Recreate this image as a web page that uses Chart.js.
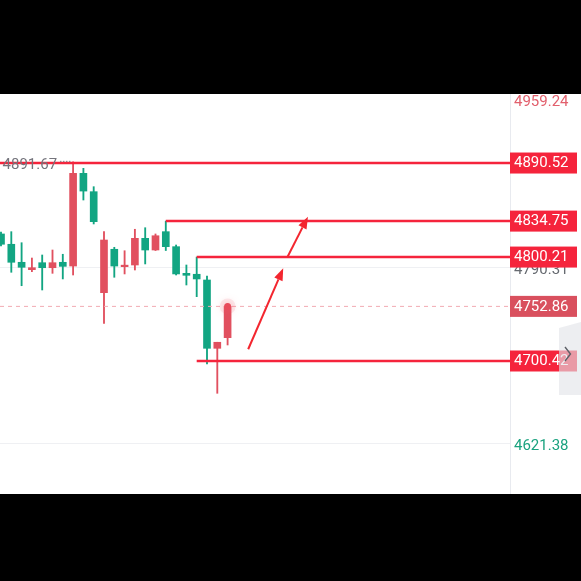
<!DOCTYPE html>
<html>
<head>
<meta charset="utf-8">
<script src="https://cdn.jsdelivr.net/npm/chart.js@4/dist/chart.umd.min.js"></script>
<style>
  html, body { margin: 0; padding: 0; background: #000; }
  #wrap { position: absolute; left: 0; top: 94px; width: 581px; height: 400px; background: #fff; }
</style>
</head>
<body>
<div id="wrap"><canvas id="kline" width="581" height="400"></canvas></div>
<script>
'use strict';

// ── Candles (index = bar number, oldest first) ───────────────────────────────
const OPEN  = [4822.4, 4812.5, 4795.2, 4788.1, 4794.8, 4790.0, 4795.2, 4791.6, 4880.6, 4863.0, 4766.0, 4807.7,
               4791.0, 4792.6, 4818.2, 4807.0, 4824.6, 4810.2, 4784.6, 4783.7, 4778.2, 4712.6, 4722.8];
const HIGH  = [4824.3, 4824.6, 4814.0, 4799.3, 4802.2, 4807.0, 4802.9, 4891.67, 4885.4, 4867.8, 4824.6, 4809.6,
               4806.3, 4826.9, 4828.4, 4822.4, 4834.75, 4811.8, 4792.6, 4800.21, 4782.0, 4718.4, 4752.86];
const LOW   = [4810.8, 4785.6, 4772.7, 4786.2, 4768.6, 4784.6, 4779.2, 4783.0, 4855.0, 4832.0, 4736.6, 4780.8,
               4784.0, 4787.8, 4793.6, 4806.5, 4806.5, 4783.0, 4773.4, 4762.2, 4697.6, 4669.4, 4715.8];
const CLOSE = [4812.5, 4795.2, 4790.4, 4790.0, 4790.0, 4794.8, 4791.3, 4880.6, 4863.6, 4834.2, 4816.6, 4791.6,
               4792.3, 4818.2, 4807.0, 4820.7, 4810.2, 4784.0, 4782.7, 4779.2, 4712.6, 4718.4, 4752.86];

// price axis: visible max / mid / min
const AXIS_TICKS  = [4959.24, 4790.31, 4621.38];
const AXIS_COLORS = ['#e2606d', '#666a70', '#1aa27f'];

// user drawn price levels and the bar each one starts from
const LEVELS      = [4890.52, 4834.75, 4800.21, 4700.42];
const LEVEL_START = [-0.1, 16, 19, 19];

// arrows: [fromBar, fromPrice, toBar, toPrice]
const ARROWS = [
  [24.0, 4711.7, 27.4, 4789.4],
  [27.8, 4800.0, 29.8, 4839.0],
];

// visible window
const X_MIN = -0.097, X_MAX = 49.418;
const Y_MIN = 4572.7, Y_MAX = 4956.8;

const UP = '#e1505f', DOWN = '#12a582', LINE_RED = '#f5243c', LAST_RED = '#d9505e';
const FONT = '15px Roboto, "Noto Sans", sans-serif';

const idx = OPEN.map((_, i) => i);
const colors = idx.map(i => CLOSE[i] >= OPEN[i] ? UP : DOWN);
const last = CLOSE[CLOSE.length - 1];

function drawArrow(ctx, x1, y1, x2, y2) {
  const ang = Math.atan2(y2 - y1, x2 - x1);
  const len = 12, half = 4.5;
  const bx = x2 - len * Math.cos(ang), by = y2 - len * Math.sin(ang);
  ctx.strokeStyle = '#f3262f';
  ctx.fillStyle = '#f3262f';
  ctx.lineWidth = 2;
  ctx.beginPath();
  ctx.moveTo(x1, y1);
  ctx.lineTo(bx, by);
  ctx.stroke();
  ctx.beginPath();
  ctx.moveTo(x2, y2);
  ctx.lineTo(bx + half * Math.sin(ang), by - half * Math.cos(ang));
  ctx.lineTo(bx - half * Math.sin(ang), by + half * Math.cos(ang));
  ctx.closePath();
  ctx.fill();
}

const overlay = {
  id: 'overlay',
  afterDatasetsDraw(chart) {
    const { ctx, scales: { x, y } } = chart;
    ctx.save();

    ARROWS.forEach(a => drawArrow(ctx,
      x.getPixelForValue(a[0]), y.getPixelForValue(a[1]),
      x.getPixelForValue(a[2]), y.getPixelForValue(a[3])));

    // highest high marker with dotted leader
    const hiVal = Math.max(...HIGH);
    const hi = HIGH.indexOf(hiVal);
    const hx = x.getPixelForValue(hi), hy = y.getPixelForValue(hiVal);
    ctx.fillStyle = '#85858d';
    for (let d = hx - 13; d < hx - 1; d += 3) ctx.fillRect(d, hy - 1, 1.3, 1.3);
    ctx.font = FONT;
    ctx.textAlign = 'right';
    ctx.textBaseline = 'middle';
    ctx.fillStyle = '#74747c';
    ctx.fillText(hiVal.toFixed(2), hx - 16, hy + 3.5);

    // live price dot on the last bar
    const lx = x.getPixelForValue(CLOSE.length - 1), ly = y.getPixelForValue(last);
    ctx.fillStyle = 'rgba(240,90,105,0.12)';
    ctx.beginPath();
    ctx.arc(lx, ly, 8, 0, Math.PI * 2);
    ctx.fill();
    ctx.shadowColor = 'rgba(240,80,95,0.55)';
    ctx.shadowBlur = 9;
    ctx.fillStyle = '#e84a5a';
    ctx.beginPath();
    ctx.arc(lx, ly, 3.5, 0, Math.PI * 2);
    ctx.fill();
    ctx.restore();
  },
  afterDraw(chart) {
    const { ctx, scales: { y } } = chart;
    ctx.save();
    ctx.font = FONT;
    ctx.textAlign = 'left';
    ctx.textBaseline = 'middle';

    AXIS_TICKS.forEach((v, i) => {
      const ty = Math.min(Math.max(y.getPixelForValue(v) + 2.5, 8), chart.height - 8);
      ctx.fillStyle = AXIS_COLORS[i];
      ctx.fillText(v.toFixed(2), 514, ty);
    });

    const tag = (v, bg) => {
      const ty = y.getPixelForValue(v);
      ctx.fillStyle = bg;
      ctx.fillRect(510, ty - 10.5, 67, 21);
      ctx.fillStyle = '#fff';
      ctx.fillText(v.toFixed(2), 514, ty + 0.5);
    };
    LEVELS.forEach(v => tag(v, LINE_RED));
    tag(last, LAST_RED);

    // collapse tab on the right edge
    ctx.fillStyle = 'rgba(226,227,233,0.62)';
    ctx.beginPath();
    ctx.moveTo(559, 234);
    ctx.lineTo(581, 228);
    ctx.lineTo(581, 301);
    ctx.lineTo(559, 301);
    ctx.closePath();
    ctx.fill();
    ctx.strokeStyle = '#5c5f66';
    ctx.lineWidth = 1.4;
    ctx.beginPath();
    ctx.moveTo(565, 253);
    ctx.lineTo(570.5, 260);
    ctx.lineTo(565, 267);
    ctx.stroke();
    ctx.restore();
  }
};

const levelSets = LEVELS.map((v, i) => ({
  type: 'line',
  data: [{ x: LEVEL_START[i], y: v }, { x: X_MAX, y: v }],
  borderColor: LINE_RED,
  borderWidth: 2.5,
  pointRadius: 0,
  order: 0,
}));

new Chart(document.getElementById('kline'), {
  type: 'bar',
  data: {
    datasets: [
      {
        label: 'wick',
        data: idx.map(i => ({ x: i, y: [LOW[i], HIGH[i]] })),
        backgroundColor: colors,
        barThickness: 1.2,
        grouped: false,
        order: 3,
      },
      {
        label: 'body',
        data: idx.map(i => ({ x: i, y: [OPEN[i], CLOSE[i]] })),
        backgroundColor: colors,
        barThickness: 7,
        minBarLength: 1.5,
        grouped: false,
        order: 2,
      },
      {
        type: 'line',
        label: 'last',
        data: [{ x: X_MIN, y: last }, { x: X_MAX, y: last }],
        borderColor: '#f2aab2',
        borderWidth: 1,
        borderDash: [4, 4],
        pointRadius: 0,
        order: 1,
      },
      ...levelSets,
    ],
  },
  options: {
    responsive: false,
    animation: false,
    layout: { padding: 0 },
    plugins: { legend: { display: false }, tooltip: { enabled: false } },
    scales: {
      x: { type: 'linear', min: X_MIN, max: X_MAX, offset: false, display: false, grid: { offset: false } },
      y: {
        type: 'linear',
        position: 'right',
        min: Y_MIN,
        max: Y_MAX,
        afterBuildTicks: s => { s.ticks = AXIS_TICKS.map(v => ({ value: v })); },
        afterFit: s => { s.width = 71; },
        ticks: { display: false },
        grid: { color: '#eff0f3', drawTicks: false },
        border: { color: '#e8eaef' },
      },
    },
  },
  plugins: [overlay],
});
</script>
</body>
</html>
